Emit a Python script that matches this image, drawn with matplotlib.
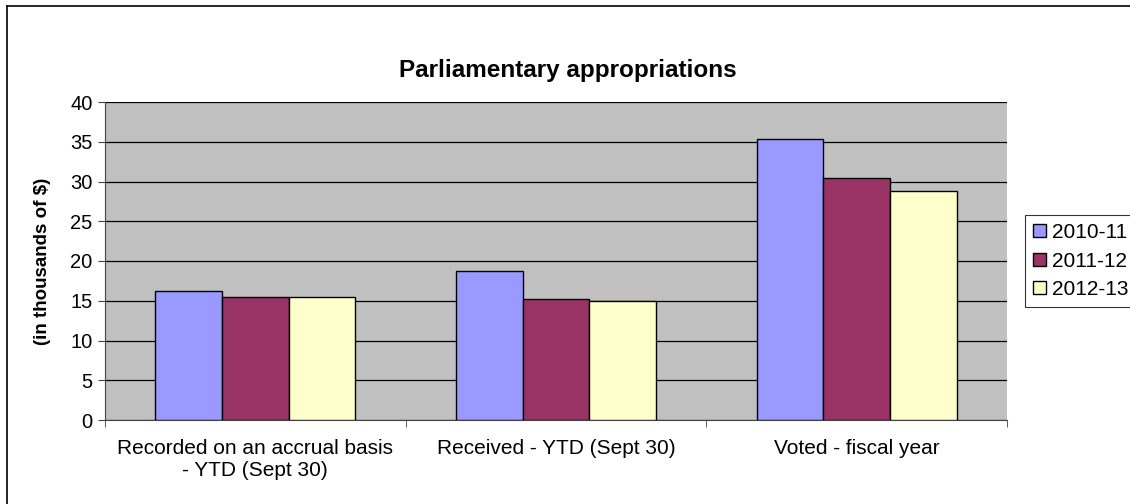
import matplotlib.pyplot as plt
import numpy as np
from matplotlib.lines import Line2D

categories = ["Recorded on an accrual basis\n- YTD (Sept 30)", "Received - YTD (Sept 30)", "Voted - fiscal year"]
series_names = ["2010-11", "2011-12", "2012-13"]
v2010 = [16.2, 18.8, 35.4]
v2011 = [15.5, 15.2, 30.4]
v2012 = [15.5, 15.0, 28.8]
colors = ["#9999FF", "#993366", "#FFFFCC"]
yticks = [0, 5, 10, 15, 20, 25, 30, 35, 40]

plt.rcParams['font.family'] = ['Liberation Sans', 'DejaVu Sans']

W, H = 1130, 504
fig = plt.figure(figsize=(W/100, H/100), dpi=100)
L, R, T, B = 105, 1007, 102, 420
ax = fig.add_axes([L/W, 1-B/H, (R-L)/W, (B-T)/H])
ax.set_facecolor("#C0C0C0")

x = np.arange(len(categories))
bw = 0.222
for i, (vals, name, c) in enumerate(zip([v2010, v2011, v2012], series_names, colors)):
    ax.bar(x + (i-1)*bw, vals, bw, color=c, edgecolor="black", linewidth=1.0, label=name, zorder=3)

ax.set_xlim(-0.5, 2.5)
ax.set_ylim(0, 40)
ax.set_yticks(yticks)
ax.tick_params(axis='y', labelsize=14.5, direction='out', length=5, width=0.8, color='#444444', pad=4)
ax.yaxis.grid(True, color='black', linewidth=0.9, zorder=1)
ax.set_axisbelow(True)
ax.set_xticks(x)
ax.set_xticklabels(categories, fontsize=15)
ax.tick_params(axis='x', length=0, pad=14)
ax.set_xticks([-0.5, 0.5, 1.5, 2.5], minor=True)
ax.tick_params(axis='x', which='minor', length=5, direction='out', color='#444444')
for s in ['top', 'right']:
    ax.spines[s].set_visible(False)
for s in ['left', 'bottom']:
    ax.spines[s].set_color('#444444')
ax.set_ylabel("(in thousands of $)", fontsize=13.5, fontweight='bold', labelpad=14)

fig.text(568/W, 1-70/H, "Parliamentary appropriations", ha='center', va='center',
         fontsize=17.5, fontweight='bold')

leg = fig.legend(loc='center left', bbox_to_anchor=(1025/W, 1-261/H), fontsize=15,
                 frameon=True, fancybox=False, edgecolor='black', handlelength=0.6, handleheight=0.6,
                 handletextpad=0.3, borderpad=0.4, labelspacing=0.45, borderaxespad=0)
leg.get_frame().set_linewidth(0.8)

# outer chart border (left and top visible)
fig.add_artist(Line2D([7/W, 7/W], [0, 1-6/H], transform=fig.transFigure, color='black', linewidth=1.2))
fig.add_artist(Line2D([7/W, 1], [1-6/H, 1-6/H], transform=fig.transFigure, color='black', linewidth=1.2))

fig.savefig("out.png", dpi=100)
